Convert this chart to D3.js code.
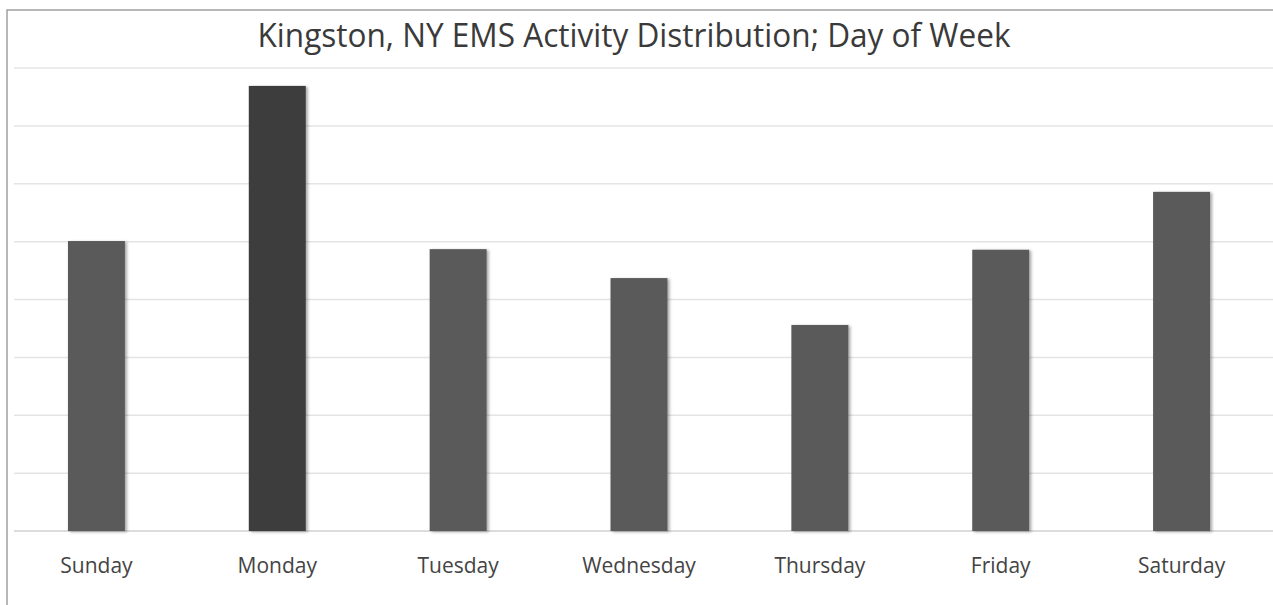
<!DOCTYPE html>
<html>
<head>
<meta charset="utf-8">
<script src="https://cdn.jsdelivr.net/npm/d3@7"></script>
<style>
  body { margin: 0; background: #fff; }
  svg { display: block; }
</style>
</head>
<body>
<script>
// data (gridline = 100 units, no axis labels shown)
const days = ['Sunday', 'Monday', 'Tuesday', 'Wednesday', 'Thursday', 'Friday', 'Saturday'];
const counts = [501, 769, 487, 437, 356, 486, 586];
const gridTicks = [0, 100, 200, 300, 400, 500, 600, 700, 800];
const title = 'Kingston, NY EMS Activity Distribution; Day of Week';

const width = 1273;
const height = 605;

const svg = d3.select('body')
  .append('svg')
  .attr('width', width)
  .attr('height', height);

// frame
svg.append('path')
  .attr('d', `M7,${height} L7,10 L${width},10`)
  .style('fill', 'none')
  .style('stroke', '#a0a0a0')
  .style('stroke-width', 1.5);

const x = d3.scaleBand()
  .domain(days)
  .range([6, 1272])
  .paddingInner(0.685)
  .paddingOuter(0.3425);

const y = d3.scaleLinear()
  .domain([0, 800])
  .range([531, 68]);

// gridlines
svg.append('g')
  .selectAll('line')
  .data(gridTicks)
  .join('line')
  .attr('x1', 14)
  .attr('x2', width)
  .attr('y1', d => y(d))
  .attr('y2', d => y(d))
  .style('stroke', d => d === 0 ? '#d0d0d0' : '#e4e4e4')
  .style('stroke-width', 1.5);

// soft shadow like the scanned excel bars
const defs = svg.append('defs');
const f = defs.append('filter').attr('id', 'shadow')
  .attr('x', '-20%').attr('y', '-5%').attr('width', '140%').attr('height', '110%');
f.append('feDropShadow')
  .attr('dx', 2).attr('dy', 1).attr('stdDeviation', 1.5)
  .attr('flood-color', '#000').attr('flood-opacity', 0.35);

svg.append('g')
  .selectAll('rect')
  .data(counts)
  .join('rect')
  .attr('x', (d, i) => x(days[i]))
  .attr('width', x.bandwidth())
  .attr('y', d => y(d))
  .attr('height', d => y(0) - y(d))
  .attr('filter', 'url(#shadow)')
  .style('fill', (d, i) => i === 1 ? '#3c3c3c' : '#5a5a5a');

// category labels
const xAxis = svg.append('g')
  .attr('transform', `translate(0,${y(0)})`)
  .call(d3.axisBottom(x).tickSize(0));
xAxis.select('.domain').remove();
xAxis.selectAll('text')
  .attr('y', 42)
  .attr('dy', null)
  .style('font-family', '"Open Sans", sans-serif')
  .style('font-size', '21px')
  .style('fill', '#444');

svg.append('text')
  .attr('x', 634)
  .attr('y', 47)
  .attr('text-anchor', 'middle')
  .attr('textLength', 753)
  .attr('lengthAdjust', 'spacingAndGlyphs')
  .style('font-family', '"Open Sans", sans-serif')
  .style('font-size', '33.5px')
  .style('fill', '#3a3a3a')
  .text(title);
</script>
</body>
</html>
